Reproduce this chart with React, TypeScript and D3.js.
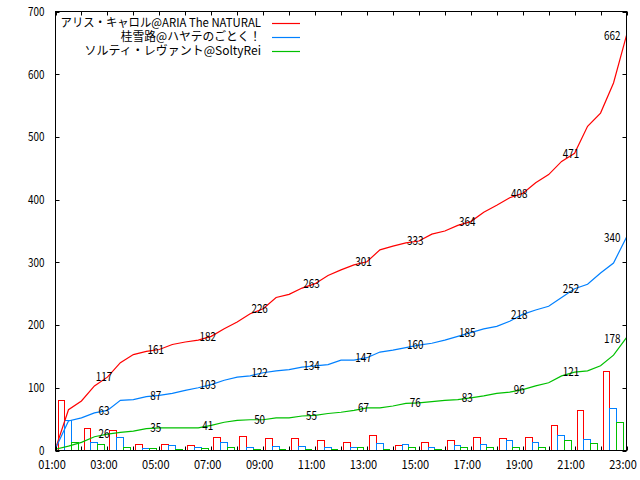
import * as d3 from 'd3';

const W = 640;
const H = 480;
const plot = { left: 55.5, right: 626.5, top: 11.5, bottom: 450.5 };

const seriesNames = [
  'アリス・キャロル@ARIA The NATURAL',
  '桂雪路@ハヤテのごとく！',
  'ソルティ・レヴァント@SoltyRei',
];
const seriesColors = ['#ff0000', '#0080ff', '#00c000'];

// hourly counts (bars)
const barHours = [1, 2, 3, 4, 5, 6, 7, 8, 9, 10, 11, 12, 13, 14, 15, 16, 17, 18, 19, 20, 21, 22];
const redBars = [81, 36, 33, 10, 11, 9, 22, 23, 20, 20, 17, 14, 24, 8, 14, 17, 22, 20, 22, 40, 64, 127];
const blueBars = [49, 14, 21, 4, 9, 6, 13, 6, 7, 7, 6, 6, 12, 10, 6, 9, 11, 17, 14, 24, 19, 68];
const greenBars = [14, 11, 5, 4, 2, 4, 6, 2, 3, 3, 2, 6, 3, 6, 3, 5, 6, 6, 6, 17, 12, 45];

// running totals, sampled every half hour
const lineTimes = [
  1, 1.5, 2, 2.5, 3, 3.5, 4, 4.5, 5, 5.5, 6, 6.5, 7, 7.5, 8, 8.5, 9, 9.5, 10, 10.5, 11, 11.5,
  12, 12.5, 13, 13.5, 14, 14.5, 15, 15.5, 16, 16.5, 17, 17.5, 18, 18.5, 19, 19.5, 20, 20.5, 21, 21.5,
  22, 22.5, 23,
];
const redLine = [
  3, 65, 79, 103, 117, 140, 153, 158, 161, 169, 173, 176, 182, 194, 205, 218, 226, 244, 249, 259, 266, 279,
  288, 296, 301, 320, 326, 331, 334, 345, 350, 359, 365, 380, 391, 403, 410, 427, 440, 461, 474, 517,
  538, 586, 662,
];
const blueLine = [
  3, 47, 52, 60, 64, 80, 81, 86, 88, 91, 96, 100, 105, 112, 117, 119, 124, 127, 129, 133, 135, 137,
  144, 144, 148, 157, 160, 164, 168, 171, 176, 182, 188, 194, 198, 206, 217, 224, 230, 244, 258, 265,
  283, 299, 340,
];
const greenLine = [
  2, 7, 13, 22, 26, 29, 31, 35, 36, 36, 36, 36, 40, 45, 48, 49, 49, 52, 52, 55, 56, 59,
  61, 64, 68, 68, 71, 75, 76, 78, 80, 81, 84, 87, 91, 93, 97, 103, 108, 119, 125, 127,
  135, 152, 180,
];

// value labels at odd hours
const labelHours = [3, 5, 7, 9, 11, 13, 15, 17, 19, 21, 23];
const redLabels = [117, 161, 182, 226, 263, 301, 333, 364, 408, 471, 662];
const blueLabels = [63, 87, 103, 122, 134, 147, 160, 185, 218, 252, 340];
const greenLabels = [26, 35, 41, 50, 55, 67, 76, 83, 96, 121, 178];

const xTickHours = [1, 2, 3, 4, 5, 6, 7, 8, 9, 10, 11, 12, 13, 14, 15, 16, 17, 18, 19, 20, 21, 22, 23];
const xLabelHours = [1, 3, 5, 7, 9, 11, 13, 15, 17, 19, 21, 23];
const xLabels = ['01:00', '03:00', '05:00', '07:00', '09:00', '11:00', '13:00', '15:00', '17:00', '19:00', '21:00', '23:00'];
const yTicks = [0, 100, 200, 300, 400, 500, 600, 700];

const FONT = "'Noto Sans CJK JP', sans-serif";

const textWidth = (s: string) =>
  Array.from(s).reduce((w, c) => w + (c.charCodeAt(0) > 0xff ? 12.2 : 6.05), 0);

export default function App() {
  const x = d3.scaleLinear().domain([1, 23]).range([plot.left, plot.right]);
  const y = d3.scaleLinear().domain([0, 700]).range([plot.bottom, plot.top]);

  const bars = [redBars, blueBars, greenBars];
  const lines = [redLine, blueLine, greenLine];
  const labels = [redLabels, blueLabels, greenLabels];

  const line = d3
    .line<number>()
    .x((_, i) => x(lineTimes[i]))
    .y((d) => y(d));

  const px = (v: number) => Math.round(v) + 0.5;

  return (
    <svg
      width={W}
      height={H}
      style={{ position: 'absolute', left: 0, top: 0, background: '#fff' }}
      fontFamily={FONT}
    >
      <rect x={0} y={0} width={W} height={H} fill="#fff" />

      {/* bars */}
      {bars.map((vals, s) =>
        vals.map((v, i) => {
          const h = barHours[i];
          const x0 = px(x(h + 0.08 + s * 0.26));
          const x1 = px(x(h + 0.34 + s * 0.26));
          const yt = px(y(v));
          return (
            <rect
              key={s + '-' + i}
              x={x0}
              y={yt}
              width={x1 - x0}
              height={plot.bottom - yt}
              fill="none"
              stroke={seriesColors[s]}
              strokeWidth={1}
            />
          );
        })
      )}

      {/* cumulative lines */}
      {lines.map((vals, s) => (
        <path
          key={'l' + s}
          d={line(vals) || ''}
          fill="none"
          stroke={seriesColors[s]}
          strokeWidth={1.2}
        />
      ))}

      {/* value labels */}
      {labels.map((vals, s) =>
        vals.map((v, i) => {
          const h = labelHours[i];
          const lv = lines[s][lineTimes.indexOf(h)];
          const last = i === vals.length - 1;
          const str = String(v);
          return (
            <text
              key={'t' + s + '-' + i}
              x={last ? x(h) - 6 : x(h) - 3.5}
              y={y(last ? v : lv) + 4.3}
              textAnchor={last ? 'end' : 'middle'}
              fontSize={12}
              textLength={str.length * 5.5}
              lengthAdjust="spacingAndGlyphs"
              fill="#000"
            >
              {str}
            </text>
          );
        })
      )}

      {/* frame */}
      <rect
        x={plot.left}
        y={plot.top}
        width={plot.right - plot.left}
        height={plot.bottom - plot.top}
        fill="none"
        stroke="#000"
      />

      {/* y ticks */}
      {yTicks.map((t) => (
        <g key={'y' + t}>
          <line x1={plot.left} x2={plot.left + 4} y1={px(y(t))} y2={px(y(t))} stroke="#000" />
          <line x1={plot.right} x2={plot.right - 4} y1={px(y(t))} y2={px(y(t))} stroke="#000" />
          <text
            x={44.5}
            y={y(t) + 4.3}
            textAnchor="end"
            fontSize={12}
            textLength={String(t).length * 5.5}
            lengthAdjust="spacingAndGlyphs"
          >
            {t}
          </text>
        </g>
      ))}

      {/* x ticks */}
      {xTickHours.map((h) => (
        <g key={'x' + h}>
          <line x1={px(x(h))} x2={px(x(h))} y1={plot.bottom} y2={plot.bottom - 4} stroke="#000" />
          <line x1={px(x(h))} x2={px(x(h))} y1={plot.top} y2={plot.top + 4} stroke="#000" />
        </g>
      ))}
      {xLabelHours.map((h, i) => (
        <text
          key={'xl' + h}
          x={x(h) - 3.5}
          y={468.5}
          textAnchor="middle"
          fontSize={12}
          textLength={xLabels[i].length * 5.5}
          lengthAdjust="spacingAndGlyphs"
        >
          {xLabels[i]}
        </text>
      ))}

      {/* legend */}
      {seriesNames.map((name, s) => {
        const cy = 22.5 + s * 14;
        return (
          <g key={'lg' + s}>
            <text
              x={261}
              y={cy + 4.4}
              textAnchor="end"
              fontSize={12}
              textLength={textWidth(name)}
              lengthAdjust="spacingAndGlyphs"
            >
              {name}
            </text>
            <line x1={272} x2={300} y1={px(cy)} y2={px(cy)} stroke={seriesColors[s]} strokeWidth={1.2} />
          </g>
        );
      })}
    </svg>
  );
}
